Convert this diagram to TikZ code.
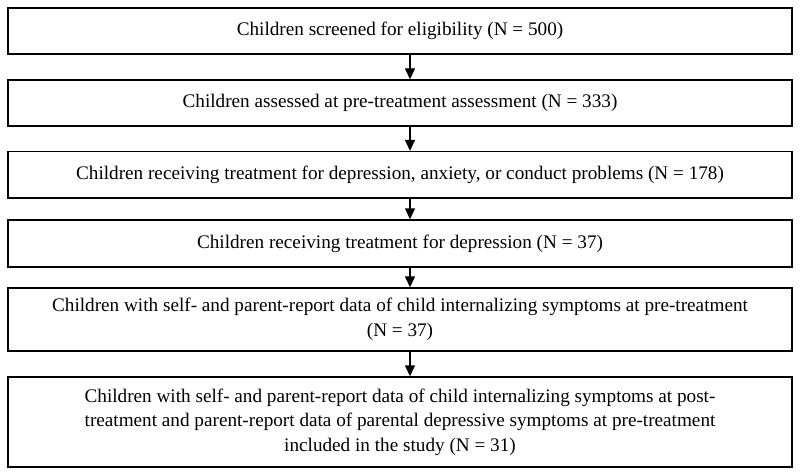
\documentclass[tikz,border=0pt]{standalone}
\usepackage{fontspec}
\setmainfont{Liberation Serif}
\usetikzlibrary{arrows.meta}
\begin{document}
\begin{tikzpicture}[x=1pt,y=-1pt,
  box/.style={draw=black, line width=1.4pt, minimum width=784pt, inner sep=0pt,
    align=center, font=\fontsize{19.2pt}{24.5pt}\selectfont},
  arr/.style={line width=1.4pt, -{Triangle[length=11pt,width=10pt]}}]
\useasboundingbox (0,0) rectangle (800,476);
\fill[white] (0,0) rectangle (800,476);
\node[box, minimum height=46pt] (b1) at (400,31) {Children screened for eligibility (N = 500)};
\node[box, minimum height=46pt] (b2) at (400,103) {Children assessed at pre-treatment assessment (N = 333)};
\node[box, minimum height=46.5pt] (b3) at (400,174.8) {Children receiving treatment for depression, anxiety, or conduct problems (N = 178)};
\node[box, minimum height=47pt] (b4) at (400,243.5) {Children receiving treatment for depression (N = 37)};
\node[box, minimum height=63pt] (b5) at (400,319.5) {Children with self- and parent-report data of child internalizing symptoms at pre-treatment\\(N = 37)};
\node[box, minimum height=90pt] (b6) at (400,422) {Children with self- and parent-report data of child internalizing symptoms at post-\\treatment and parent-report data of parental depressive symptoms at pre-treatment\\included in the study (N = 31)};
\draw[arr] ([xshift=10pt]b1.south) -- ([xshift=10pt]b2.north);
\draw[arr] ([xshift=10pt]b2.south) -- ([xshift=10pt]b3.north);
\draw[arr] ([xshift=10pt]b3.south) -- ([xshift=10pt]b4.north);
\draw[arr] ([xshift=10pt]b4.south) -- ([xshift=10pt]b5.north);
\draw[arr] ([xshift=10pt]b5.south) -- ([xshift=10pt]b6.north);
\end{tikzpicture}
\end{document}
